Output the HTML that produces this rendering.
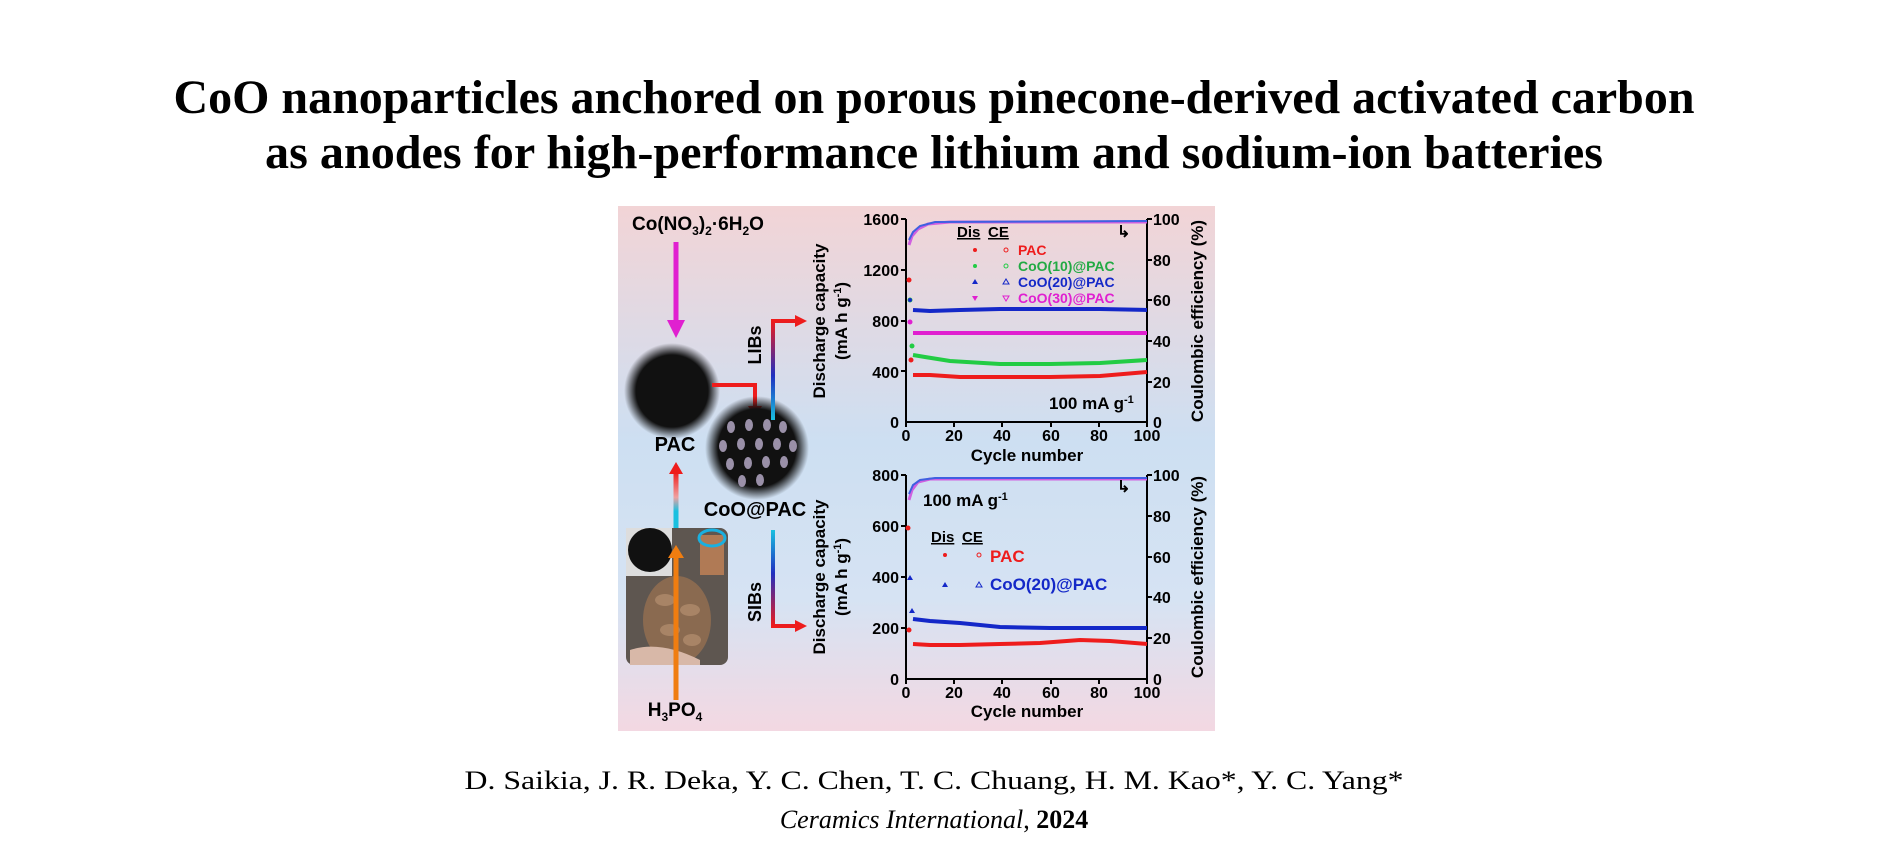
<!DOCTYPE html>
<html><head><meta charset="utf-8"><style>html,body{margin:0;padding:0;background:#fff;}svg{display:block}</style></head>
<body>
<svg width="1900" height="867" viewBox="0 0 1900 867" xmlns="http://www.w3.org/2000/svg" font-family="Liberation Sans, Arial, sans-serif">
<defs>
<linearGradient id="bg" x1="0" y1="0" x2="0" y2="1">
<stop offset="0" stop-color="#f2d4d6"/><stop offset="0.45" stop-color="#cddff2"/><stop offset="0.75" stop-color="#d6e3f3"/><stop offset="1" stop-color="#f3d8e2"/></linearGradient>
<linearGradient id="v1" x1="0" y1="1" x2="0" y2="0"><stop offset="0" stop-color="#19c0e0"/><stop offset="0.45" stop-color="#2030c0"/><stop offset="1" stop-color="#ee1c1c"/></linearGradient>
<linearGradient id="v2" x1="0" y1="0" x2="0" y2="1"><stop offset="0" stop-color="#19c0e0"/><stop offset="0.45" stop-color="#2030c0"/><stop offset="1" stop-color="#ee1c1c"/></linearGradient>
<linearGradient id="v3" x1="0" y1="1" x2="0" y2="0"><stop offset="0" stop-color="#19c0e0"/><stop offset="0.3" stop-color="#19c0e0"/><stop offset="0.55" stop-color="#f0a0a0"/><stop offset="1" stop-color="#ee1c1c"/></linearGradient>
<radialGradient id="blk"><stop offset="0.75" stop-color="#111"/><stop offset="1" stop-color="#111" stop-opacity="0"/></radialGradient>
</defs>
<text x="934" y="113" font-family="Liberation Serif, serif" font-weight="bold" font-size="48" text-anchor="middle" textLength="1521" lengthAdjust="spacingAndGlyphs">CoO nanoparticles anchored on porous pinecone-derived activated carbon</text>
<text x="934" y="168" font-family="Liberation Serif, serif" font-weight="bold" font-size="48" text-anchor="middle" textLength="1338" lengthAdjust="spacingAndGlyphs">as anodes for high-performance lithium and sodium-ion batteries</text>
<text x="934" y="789" font-family="Liberation Serif, serif" font-size="26" text-anchor="middle" textLength="939" lengthAdjust="spacingAndGlyphs">D. Saikia, J. R. Deka, Y. C. Chen, T. C. Chuang, H. M. Kao*, Y. C. Yang*</text>
<text x="934" y="828" font-family="Liberation Serif, serif" font-size="26" text-anchor="middle"><tspan font-style="italic">Ceramics International</tspan>, <tspan font-weight="bold">2024</tspan></text>

<rect x="618" y="206" width="597" height="525" fill="url(#bg)"/>
<!-- left schematic -->
<text x="632" y="230" font-size="19" font-weight="bold">Co(NO<tspan font-size="12" dy="5">3</tspan><tspan dy="-5">)</tspan><tspan font-size="12" dy="5">2</tspan><tspan dy="-5">·6H</tspan><tspan font-size="12" dy="5">2</tspan><tspan dy="-5">O</tspan></text>
<line x1="676" y1="242" x2="676" y2="322" stroke="#e020d0" stroke-width="5"/>
<polygon points="667,320 685,320 676,338" fill="#e020d0"/>
<circle cx="672" cy="391" r="48" fill="url(#blk)"/>
<text x="675" y="451" font-size="20" font-weight="bold" text-anchor="middle">PAC</text>
<polyline points="712,385 755,385 755,408" fill="none" stroke="#ee1c1c" stroke-width="4"/>
<polygon points="748,406 762,406 755,417" fill="#ee1c1c"/>
<circle cx="757" cy="448" r="52" fill="url(#blk)"/>
<g fill="#9a90a8">
<ellipse cx="731" cy="427" rx="4" ry="6"/><ellipse cx="749" cy="425" rx="4" ry="6"/><ellipse cx="767" cy="425" rx="4" ry="6"/><ellipse cx="783" cy="427" rx="4" ry="6"/>
<ellipse cx="723" cy="446" rx="4" ry="6"/><ellipse cx="741" cy="444" rx="4" ry="6"/><ellipse cx="759" cy="444" rx="4" ry="6"/><ellipse cx="777" cy="444" rx="4" ry="6"/><ellipse cx="793" cy="446" rx="4" ry="6"/>
<ellipse cx="730" cy="464" rx="4" ry="6"/><ellipse cx="748" cy="463" rx="4" ry="6"/><ellipse cx="766" cy="462" rx="4" ry="6"/><ellipse cx="784" cy="462" rx="4" ry="6"/>
<ellipse cx="742" cy="481" rx="4" ry="6"/><ellipse cx="760" cy="480" rx="4" ry="6"/></g>
<text x="755" y="516" font-size="20" font-weight="bold" text-anchor="middle">CoO@PAC</text>
<rect x="673.5" y="472" width="5" height="56" fill="url(#v3)"/>
<polygon points="669,474 683,474 676,462" fill="#ee1c1c"/>
<rect x="626" y="528" width="102" height="137" rx="8" fill="#5e5650"/>
<rect x="626" y="528" width="46" height="48" fill="#ddd"/>
<circle cx="650" cy="550" r="22" fill="#111"/>
<rect x="700" y="535" width="24" height="40" fill="#b07a55"/>
<ellipse cx="712" cy="538" rx="13" ry="8" fill="none" stroke="#19b0e0" stroke-width="3"/>
<ellipse cx="677" cy="620" rx="34" ry="44" fill="#8a6a50"/>
<g fill="#a88466"><ellipse cx="665" cy="600" rx="10" ry="6"/><ellipse cx="690" cy="610" rx="10" ry="6"/><ellipse cx="670" cy="630" rx="10" ry="6"/><ellipse cx="692" cy="640" rx="9" ry="6"/></g>
<path d="M630,650 Q660,640 700,660 L700,665 L630,665Z" fill="#d8b8a8"/>
<line x1="676" y1="700" x2="676" y2="555" stroke="#f07d10" stroke-width="5"/>
<polygon points="668,558 684,558 676,545" fill="#f07d10"/>
<text x="675" y="716" font-size="19" font-weight="bold" text-anchor="middle">H<tspan font-size="12" dy="5">3</tspan><tspan dy="-5">PO</tspan><tspan font-size="12" dy="5">4</tspan></text>
<!-- brackets -->
<polyline points="773,420 773,321 797,321" fill="none" stroke="url(#v1)" stroke-width="4"/>
<polygon points="795,315 807,321 795,327" fill="#ee1c1c"/>
<polyline points="773,530 773,626 797,626" fill="none" stroke="url(#v2)" stroke-width="4"/>
<polygon points="795,620 807,626 795,632" fill="#ee1c1c"/>
<text transform="translate(761,345) rotate(-90)" font-size="18" font-weight="bold" text-anchor="middle">LIBs</text>
<text transform="translate(761,602) rotate(-90)" font-size="18" font-weight="bold" text-anchor="middle">SIBs</text>

<!-- TOP PLOT -->
<g font-weight="bold" font-size="16">
<text transform="translate(825,321) rotate(-90)" text-anchor="middle" font-size="17">Discharge capacity</text>
<text transform="translate(847,321) rotate(-90)" text-anchor="middle" font-size="17">(mA h g<tspan font-size="11" dy="-6">-1</tspan><tspan dy="6">)</tspan></text>
<text transform="translate(1203,321) rotate(-90)" text-anchor="middle" font-size="17">Coulombic efficiency (%)</text>
<g text-anchor="end">
<text x="899" y="225">1600</text><text x="899" y="276">1200</text><text x="899" y="327">800</text><text x="899" y="378">400</text><text x="899" y="428">0</text></g>
<g>
<text x="1153" y="225">100</text><text x="1153" y="266">80</text><text x="1153" y="306">60</text><text x="1153" y="347">40</text><text x="1153" y="388">20</text><text x="1153" y="428">0</text></g>
<g text-anchor="middle">
<text x="906" y="441">0</text><text x="954" y="441">20</text><text x="1002" y="441">40</text><text x="1051" y="441">60</text><text x="1099" y="441">80</text><text x="1147" y="441">100</text></g>
<text x="1027" y="461" text-anchor="middle" font-size="17">Cycle number</text>
</g>
<g stroke="#000" stroke-width="2" fill="none">
<polyline points="906,219 906,422 1147,422 1147,219"/>
<path d="M901,219h5M901,270h5M901,321h5M901,371h5M1147,219h5M1147,260h5M1147,300h5M1147,341h5M1147,382h5M906,422v5M954,422v5M1002,422v5M1051,422v5M1099,422v5M1147,422v5"/>
</g>
<g fill="none" stroke-width="4">
<polyline stroke="#ee1c1c" points="913,375 930,375 960,377 1000,377 1050,377 1100,376 1147,372"/>
<polyline stroke="#22cc44" points="913,355 925,357 950,361 1000,364 1050,364 1100,363 1147,360"/>
<polyline stroke="#1428c8" points="913,310 930,311 960,310 1000,309 1050,309 1100,309 1147,310"/>
<polyline stroke="#e020d0" points="913,333 930,333 1000,333 1100,333 1147,333"/>
<polyline stroke="#d060e0" stroke-width="3" points="909,245 912,236 918,229 928,224 950,222 1147,222"/>
<polyline stroke="#4060e0" stroke-width="2" points="909,240 913,232 920,226 935,222 1147,221"/>
</g>
<g>
<circle cx="909" cy="280" r="2.5" fill="#ee1c1c"/><circle cx="910" cy="300" r="2.5" fill="#22cc44"/><circle cx="911" cy="360" r="2.5" fill="#ee1c1c"/><circle cx="912" cy="346" r="2.5" fill="#22cc44"/><circle cx="910" cy="322" r="2.5" fill="#e020d0"/><circle cx="910" cy="300" r="2" fill="#1428c8"/>
</g>
<g font-weight="bold">
<text x="957" y="237" font-size="15" text-decoration="underline">Dis</text>
<text x="988" y="237" font-size="15" text-decoration="underline">CE</text>
<circle cx="975" cy="250" r="2" fill="#ee1c1c"/><circle cx="1006" cy="250" r="2" fill="none" stroke="#ee1c1c"/>
<text x="1018" y="255" font-size="14" fill="#ee1c1c">PAC</text>
<circle cx="975" cy="266" r="2" fill="#22cc44"/><circle cx="1006" cy="266" r="2" fill="none" stroke="#22cc44"/>
<text x="1018" y="271" font-size="14" fill="#22aa44">CoO(10)@PAC</text>
<polygon points="972,284 978,284 975,279" fill="#1428c8"/><polygon points="1003,284 1009,284 1006,279" fill="none" stroke="#1428c8"/>
<text x="1018" y="287" font-size="14" fill="#1428c8">CoO(20)@PAC</text>
<polygon points="972,296 978,296 975,301" fill="#e020d0"/><polygon points="1003,296 1009,296 1006,301" fill="none" stroke="#e020d0"/>
<text x="1018" y="303" font-size="14" fill="#e020d0">CoO(30)@PAC</text>
<text x="1049" y="409" font-size="17">100 mA g<tspan font-size="11" dy="-6">-1</tspan></text>
<text x="1117" y="237" font-size="16">↳</text>
</g>

<!-- BOTTOM PLOT -->
<g font-weight="bold" font-size="16">
<text transform="translate(825,577) rotate(-90)" text-anchor="middle" font-size="17">Discharge capacity</text>
<text transform="translate(847,577) rotate(-90)" text-anchor="middle" font-size="17">(mA h g<tspan font-size="11" dy="-6">-1</tspan><tspan dy="6">)</tspan></text>
<text transform="translate(1203,577) rotate(-90)" text-anchor="middle" font-size="17">Coulombic efficiency (%)</text>
<g text-anchor="end">
<text x="899" y="481">800</text><text x="899" y="532">600</text><text x="899" y="583">400</text><text x="899" y="634">200</text><text x="899" y="685">0</text></g>
<g>
<text x="1153" y="481">100</text><text x="1153" y="522">80</text><text x="1153" y="563">60</text><text x="1153" y="603">40</text><text x="1153" y="644">20</text><text x="1153" y="685">0</text></g>
<g text-anchor="middle">
<text x="906" y="698">0</text><text x="954" y="698">20</text><text x="1002" y="698">40</text><text x="1051" y="698">60</text><text x="1099" y="698">80</text><text x="1147" y="698">100</text></g>
<text x="1027" y="717" text-anchor="middle" font-size="17">Cycle number</text>
</g>
<g stroke="#000" stroke-width="2" fill="none">
<polyline points="906,475 906,679 1147,679 1147,475"/>
<path d="M901,475h5M901,526h5M901,577h5M901,628h5M1147,475h5M1147,516h5M1147,557h5M1147,597h5M1147,638h5M906,679v5M954,679v5M1002,679v5M1051,679v5M1099,679v5M1147,679v5"/>
</g>
<g fill="none" stroke-width="4">
<polyline stroke="#ee1c1c" points="913,644 930,645 960,645 1000,644 1040,643 1080,640 1110,641 1147,644"/>
<polyline stroke="#1428c8" points="913,619 930,621 960,623 1000,627 1050,628 1100,628 1147,628"/>
<polyline stroke="#d060e0" stroke-width="3" points="909,500 912,490 918,482 930,479 1147,479"/>
<polyline stroke="#4060e0" stroke-width="2" points="909,494 913,485 920,480 935,478 1147,478"/>
</g>
<circle cx="908" cy="528" r="2.5" fill="#ee1c1c"/><circle cx="909" cy="630" r="2.5" fill="#ee1c1c"/>
<polygon points="907,580 913,580 910,575" fill="#1428c8"/><polygon points="909,613 915,613 912,608" fill="#1428c8"/>
<g font-weight="bold">
<text x="923" y="506" font-size="17">100 mA g<tspan font-size="11" dy="-6">-1</tspan></text>
<text x="1117" y="492" font-size="16">↳</text>
<text x="931" y="542" font-size="15" text-decoration="underline">Dis</text>
<text x="962" y="542" font-size="15" text-decoration="underline">CE</text>
<circle cx="945" cy="555" r="2" fill="#ee1c1c"/><circle cx="979" cy="555" r="2" fill="none" stroke="#ee1c1c"/>
<text x="990" y="562" font-size="17" fill="#ee1c1c">PAC</text>
<polygon points="942,587 948,587 945,582" fill="#1428c8"/><polygon points="976,587 982,587 979,582" fill="none" stroke="#1428c8"/>
<text x="990" y="590" font-size="17" fill="#1428c8">CoO(20)@PAC</text>
</g>
</svg>
</body></html>
